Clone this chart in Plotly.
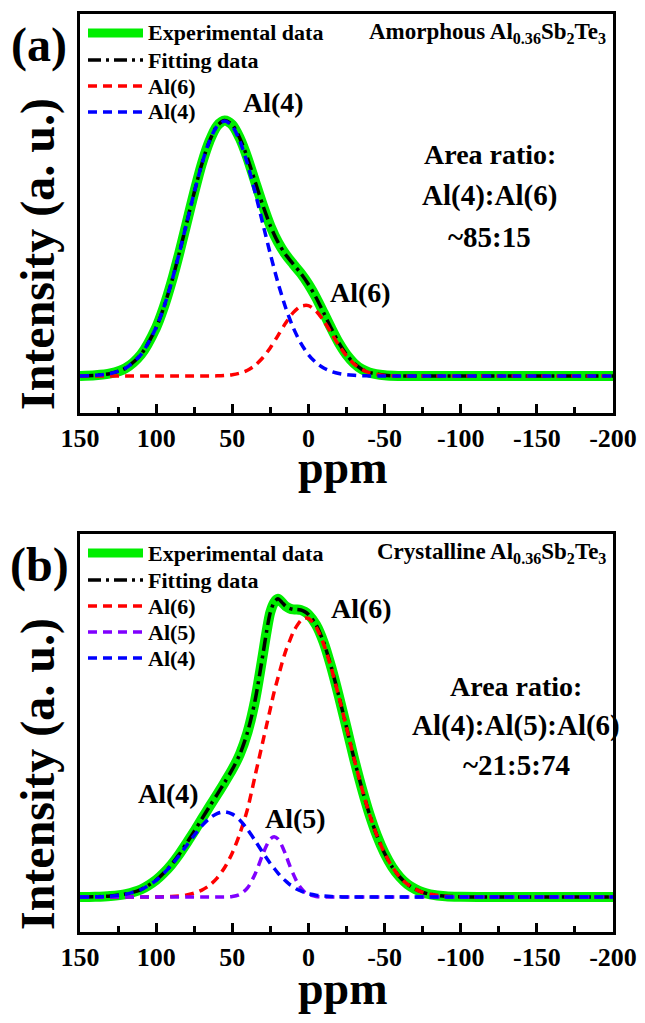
import plotly.graph_objects as go

# ---------------- data ----------------
ppm_a = [150, 140, 130, 120, 110, 100, 95, 90, 85, 80, 75, 70, 65, 60, 55, 50, 45, 40, 35, 30,
         25, 20, 15, 10, 5, 0, -5, -10, -15, -20, -25, -30, -35, -40, -50, -60, -80, -100, -150, -200]
exp_a = [0.0006, 0.0027, 0.010, 0.031, 0.084, 0.190, 0.269, 0.366, 0.478, 0.599, 0.720, 0.832, 0.921, 0.981,
         1.002, 0.985, 0.932, 0.855, 0.762, 0.671, 0.589, 0.525, 0.477, 0.439, 0.403, 0.360, 0.308, 0.248,
         0.187, 0.130, 0.084, 0.050, 0.027, 0.014, 0.003, 0.0004, 0, 0, 0, 0]
fit_a = [0.0006, 0.0027, 0.010, 0.031, 0.084, 0.190, 0.269, 0.366, 0.478, 0.599, 0.720, 0.832, 0.921, 0.981,
         1.002, 0.985, 0.932, 0.855, 0.762, 0.671, 0.589, 0.525, 0.477, 0.439, 0.403, 0.360, 0.308, 0.248,
         0.187, 0.130, 0.084, 0.050, 0.027, 0.014, 0.003, 0.0004, 0, 0, 0, 0]
al6_a = [0, 0, 0, 0, 0, 0, 0, 0, 0, 0, 0, 0.0001, 0.0003, 0.0008, 0.0022, 0.0051, 0.0113, 0.0228, 0.0423,
         0.0717, 0.1113, 0.1586, 0.2075, 0.2488, 0.2737, 0.2761, 0.2554, 0.2167, 0.1686, 0.1204, 0.0788,
         0.0473, 0.0260, 0.0131, 0.0026, 0.0004, 0, 0, 0, 0]
al4_a = [0.0006, 0.0027, 0.0100, 0.0314, 0.0837, 0.190, 0.269, 0.366, 0.478, 0.599, 0.720, 0.832, 0.921,
         0.980, 1.000, 0.980, 0.921, 0.832, 0.720, 0.599, 0.478, 0.366, 0.269, 0.190, 0.129, 0.0837, 0.0523,
         0.0314, 0.0180, 0.0100, 0.0053, 0.0027, 0.0013, 0.0006, 0, 0, 0, 0, 0, 0]

ppm_b = [150, 140, 130, 120, 110, 100, 95, 90, 85, 80, 75, 70, 65, 60, 55, 50, 45, 40, 35, 30,
         27.5, 25, 22.5, 20, 17.5, 15, 12.5, 10, 7.5, 5, 2.5, 0,
         -5, -10, -15, -20, -25, -30, -35, -40, -45, -50, -55, -60, -65, -70, -75, -80,
         -90, -100, -120, -150, -200]
exp_b = [0.000, 0.001, 0.004, 0.011, 0.027, 0.061, 0.086, 0.116, 0.152, 0.193, 0.235, 0.280, 0.324, 0.367,
         0.411, 0.457, 0.512, 0.590, 0.705, 0.865, 0.950, 1.020, 1.055, 1.068, 1.056, 1.042, 1.034, 1.030,
         1.030, 1.028, 1.022, 1.012, 0.975, 0.912, 0.823, 0.719, 0.608, 0.495, 0.391, 0.298, 0.220, 0.157,
         0.108, 0.072, 0.046, 0.029, 0.017, 0.010, 0.003, 0.001, 0, 0, 0]
fit_b = [0.000, 0.001, 0.004, 0.011, 0.027, 0.061, 0.086, 0.116, 0.152, 0.193, 0.235, 0.280, 0.324, 0.367,
         0.411, 0.457, 0.512, 0.590, 0.705, 0.865, 0.950, 1.020, 1.055, 1.068, 1.056, 1.042, 1.034, 1.030,
         1.030, 1.028, 1.022, 1.012, 0.975, 0.912, 0.823, 0.719, 0.608, 0.495, 0.391, 0.298, 0.220, 0.157,
         0.108, 0.072, 0.046, 0.029, 0.017, 0.010, 0.003, 0.001, 0, 0, 0]
al6_b = [0, 0, 0, 0, 0.0001, 0.0005, 0.001, 0.002, 0.004, 0.008, 0.014, 0.025, 0.042, 0.068, 0.106, 0.158,
         0.228, 0.315, 0.435, 0.555, 0.615, 0.675, 0.735, 0.785, 0.835, 0.880, 0.915, 0.948, 0.972, 0.990,
         0.999, 0.998, 0.967, 0.906, 0.820, 0.717, 0.607, 0.495, 0.391, 0.298, 0.220, 0.157, 0.108, 0.072,
         0.046, 0.029, 0.017, 0.010, 0.003, 0.001, 0, 0, 0]
al5_b = [0, 0, 0, 0, 0, 0, 0, 0, 0, 0, 0, 0, 0, 0, 0, 0.002, 0.0095, 0.033, 0.083, 0.153, 0.185, 0.208,
         0.216, 0.208, 0.185, 0.153, 0.116, 0.083, 0.054, 0.033, 0.018, 0.0095, 0.002, 0.0003,
         0, 0, 0, 0, 0, 0, 0, 0, 0, 0, 0, 0, 0, 0, 0, 0, 0, 0, 0]
al4_b = [0.0002, 0.0009, 0.0034, 0.0104, 0.027, 0.060, 0.085, 0.114, 0.148, 0.185, 0.221, 0.255, 0.282,
         0.299, 0.305, 0.297, 0.275, 0.242, 0.202, 0.160, 0.140, 0.120, 0.103, 0.086, 0.070, 0.058, 0.046,
         0.038, 0.028, 0.022, 0.016, 0.012, 0.007, 0.004, 0.002, 0.001, 0.0005,
         0, 0, 0, 0, 0, 0, 0, 0, 0, 0, 0, 0, 0, 0, 0, 0]

tick_vals = [150, 100, 50, 0, -50, -100, -150, -200]
tick_text = ["150", "100", "50", "0", "-50", "-100", "-150", "-200"]

# ---------------- styling ----------------
PAGE_W, PAGE_H = 645, 1023
OFF = 8                       # default body margin of the html page
W, H = PAGE_W - 2 * OFF, PAGE_H - 2 * OFF
FONT = "Liberation Serif"
GREEN = "#00ee00"
RED = "#ff0000"
BLUE = "#0000ff"
PURPLE = "#8000ff"
DASH = "9px,6px"
DASHDOT = "13px,5px,3px,5px"


def pxx(x):
    return (x - OFF) / W


def pxy(y):
    return 1 - (y - OFF) / H


fig = go.Figure()
shapes = []
anns = []


def ann(text, x, y, size, xanchor="center", textangle=0):
    anns.append(dict(text="<b>" + text + "</b>", x=pxx(x), y=pxy(y), xref="paper", yref="paper",
                     showarrow=False, xanchor=xanchor, yanchor="middle", textangle=textangle,
                     font=dict(family=FONT, size=size, color="black")))


def legend_row(name, y, color, width, dash):
    shapes.append(dict(type="line", xref="paper", yref="paper", x0=pxx(88), x1=pxx(143), y0=pxy(y),
                       y1=pxy(y), line=dict(color=color, width=width, dash=dash)))
    ann(name, 146, y, 22, xanchor="left")


def add_set(ppm, exp_, fit_, comps, xa, ya, leg_y):
    series = [("Experimental data", exp_, GREEN, 10, "solid"),
              ("Fitting data", fit_, "black", 3.5, DASHDOT)]
    series += [(n, v, c, 3.5, DASH) for n, v, c in comps]
    for i, (name, vals, col, wid, dash) in enumerate(series):
        fig.add_trace(go.Scatter(x=ppm, y=vals, mode="lines", name=name, showlegend=False,
                                 line=dict(color=col, width=wid, dash=dash, shape="spline", smoothing=0.8),
                                 xaxis=xa, yaxis=ya))
        legend_row(name, leg_y[i], col, 9 if i == 0 else 3.5, dash)


add_set(ppm_a, exp_a, fit_a, [("Al(6)", al6_a, RED), ("Al(4)", al4_a, BLUE)], "x", "y",
        [33, 60, 86, 112])
add_set(ppm_b, exp_b, fit_b, [("Al(6)", al6_b, RED), ("Al(5)", al5_b, PURPLE), ("Al(4)", al4_b, BLUE)],
        "x2", "y2", [553, 580, 606, 632, 658])

xdom = [pxx(80), pxx(613)]
ax_common = dict(range=[150, -200], tickmode="array", tickvals=tick_vals, ticktext=tick_text,
                 ticks="inside", ticklen=9, tickwidth=3, tickcolor="black",
                 minor=dict(dtick=25, ticks="inside", ticklen=6, tickwidth=3, tickcolor="black"),
                 showline=True, linewidth=3, linecolor="black", mirror=True, showgrid=False,
                 zeroline=False, tickfont=dict(family=FONT, size=26, color="black", weight="bold"),
                 domain=xdom, fixedrange=True, automargin=False)
ay_common = dict(showline=True, linewidth=3, linecolor="black", mirror=True, showgrid=False,
                 zeroline=False, showticklabels=False, ticks="", automargin=False, fixedrange=True)

fig.update_layout(
    width=W, height=H, margin=dict(l=0, r=0, t=0, b=0, pad=0, autoexpand=False),
    paper_bgcolor="white", plot_bgcolor="white",
    font=dict(family=FONT, color="black"),
    xaxis=dict(ax_common, anchor="y"),
    yaxis=dict(ay_common, range=[-0.145, 1.42], domain=[pxy(413), pxy(14)], anchor="x"),
    xaxis2=dict(ax_common, anchor="y2"),
    yaxis2=dict(ay_common, range=[-0.125, 1.30], domain=[pxy(932), pxy(534)], anchor="x2"),
    showlegend=False,
)

for off, tag, title in [(0, "(a)", "Amorphous"), (520, "(b)", "Crystalline")]:
    ann(tag, 39, 45 + off, 48)
    ann(title + " Al<sub>0.36</sub>Sb<sub>2</sub>Te<sub>3</sub>", 608, 33 + off, 23, xanchor="right")
    ann("Intensity (a. u.)", 38, 254 + off, 48, textangle=-90)
    ann("ppm", 342, 468 + off, 46)

# panel (a) labels
ann("Al(4)", 273, 103, 28)
ann("Al(6)", 360, 293, 28)
ann("Area ratio:", 490, 154, 28)
ann("Al(4):Al(6)", 490, 196, 29)
ann("~85:15", 490, 237, 29)
# panel (b) labels
ann("Al(6)", 361, 608, 28)
ann("Al(4)", 168, 793, 28)
ann("Al(5)", 295, 818, 28)
ann("Area ratio:", 516, 686, 28)
ann("Al(4):Al(5):Al(6)", 516, 725, 29)
ann("~21:5:74", 516, 765, 29)

fig.update_layout(annotations=anns, shapes=shapes)
fig.write_html("out.html")
